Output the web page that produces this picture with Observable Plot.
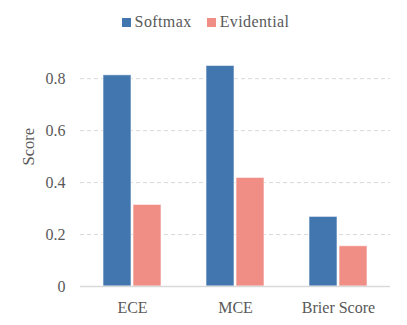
<!DOCTYPE html>
<html>
<head>
<meta charset="utf-8">
<script src="https://cdn.jsdelivr.net/npm/d3@7"></script>
<script src="https://cdn.jsdelivr.net/npm/@observablehq/plot@0.6"></script>
<style>
  html, body { margin: 0; padding: 0; background: #fff; }
  #wrap { position: relative; width: 407px; height: 325px; font-family: "Liberation Serif", "Times New Roman", serif; }
  #legend { position: absolute; top: 13px; left: 0; width: 407px; display: flex; justify-content: center; align-items: center; gap: 15px; font-size: 16px; color: #595959; letter-spacing: 0.4px; padding-left: 4px; box-sizing: border-box; }
  #legend .item { display: flex; align-items: center; gap: 4px; }
  #legend .sw { width: 9px; height: 9px; display: inline-block; }
  #chart { position: absolute; top: 0; left: 0; }
  #chart svg text { font-family: "Liberation Serif", "Times New Roman", serif; }
</style>
</head>
<body>
<div id="wrap">
  <div id="chart"></div>
  <div id="legend"></div>
</div>
<script>
const metrics = ["ECE", "MCE", "Brier Score"];
const series = ["Softmax", "Evidential"];
const softmaxValues = [0.813, 0.849, 0.268];
const evidentialValues = [0.314, 0.418, 0.155];
const yTicks = [0, 0.2, 0.4, 0.6, 0.8];
const yLabel = "Score";
const colors = ["#4176ae", "#f08e86"];

const softmaxData = metrics.map((m, i) => ({metric: m, series: series[0], value: softmaxValues[i]}));
const evidentialData = metrics.map((m, i) => ({metric: m, series: series[1], value: evidentialValues[i]}));

const serif = "'Liberation Serif', 'Times New Roman', serif";
const half = 29.3;
const chart = Plot.plot({
  width: 407,
  height: 325,
  marginLeft: 80,
  marginRight: 17,
  marginTop: 60,
  marginBottom: 39,
  style: "font-family: 'Liberation Serif', 'Times New Roman', serif; font-size: 16px; color: #595959; background: white;",
  x: {domain: metrics, paddingInner: 0.433, paddingOuter: 0.2165, label: null},
  y: {domain: [0, 0.87], label: null},
  color: {domain: series, range: colors},
  marks: [
    Plot.gridY(yTicks.filter(d => d > 0), {stroke: "#d9d9d9", strokeOpacity: 1, strokeWidth: 1, strokeDasharray: "4,3"}),
    Plot.barY(softmaxData, {x: "metric", y: "value", fill: "series", insetRight: half + 0.7, stroke: "white", strokeOpacity: 0.6, strokeWidth: 1}),
    Plot.barY(evidentialData, {x: "metric", y: "value", fill: "series", insetLeft: half + 0.7, stroke: "white", strokeOpacity: 0.6, strokeWidth: 1}),
    Plot.ruleY([0], {stroke: "#d9d9d9", strokeWidth: 1.5}),
    Plot.axisY({ticks: yTicks, tickFormat: d3.format("~g"), tickSize: 0, tickPadding: 15, label: null, fill: "#595959", fontFamily: serif, fontSize: 16}),
    Plot.text([yLabel], {frameAnchor: "left", rotate: -90, dx: -52, dy: -8, fill: "#595959", fontFamily: serif, fontSize: 16.5}),
    Plot.axisX({tickSize: 0, tickPadding: 15, label: null, fill: "#595959", fontFamily: serif, fontSize: 16})
  ]
});
document.getElementById("chart").appendChild(chart);

const legend = document.getElementById("legend");
series.forEach((s, i) => {
  const item = document.createElement("div");
  item.className = "item";
  const sw = document.createElement("span");
  sw.className = "sw";
  sw.style.background = colors[i];
  const t = document.createElement("span");
  t.textContent = s;
  item.appendChild(sw);
  item.appendChild(t);
  legend.appendChild(item);
});
</script>
</body>
</html>
